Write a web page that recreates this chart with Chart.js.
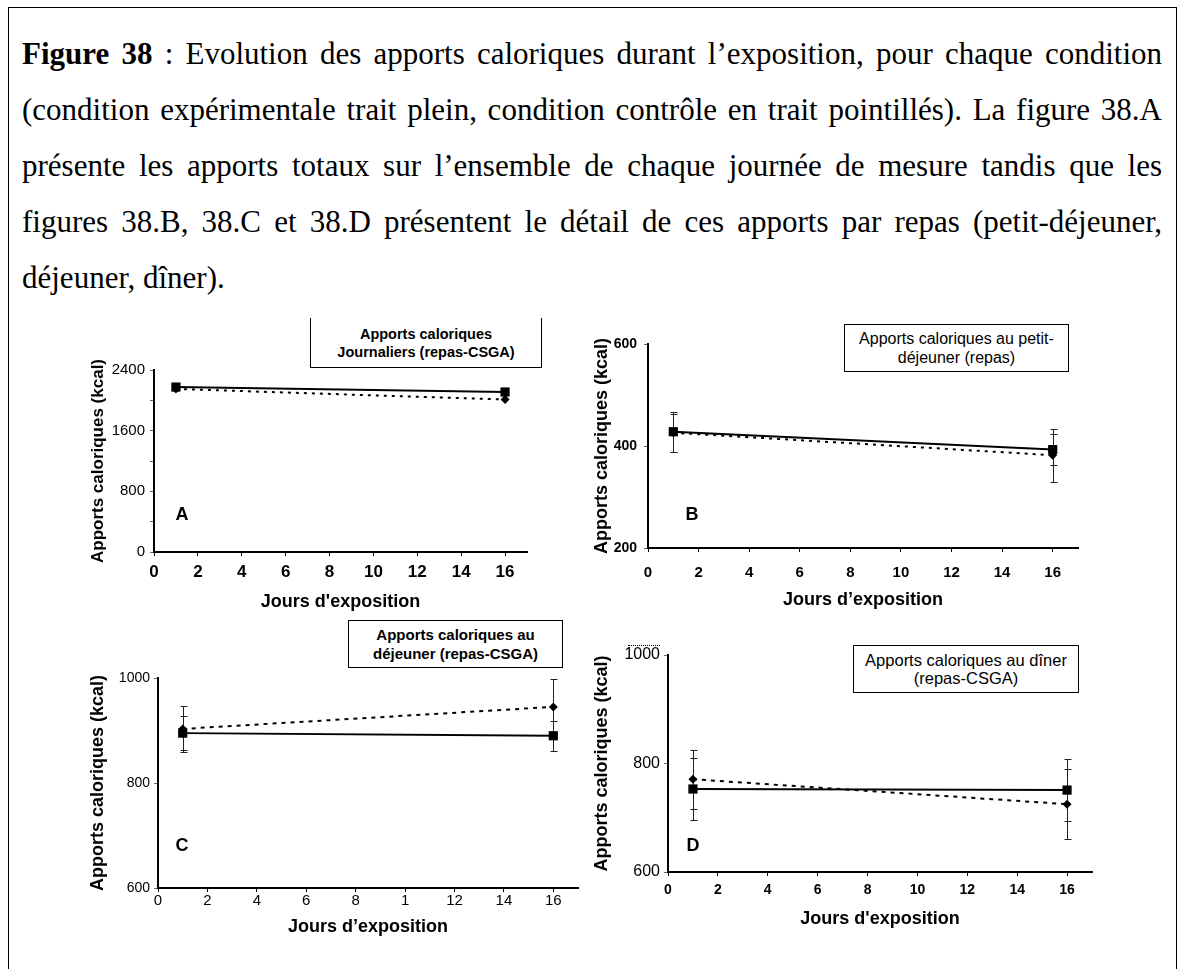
<!DOCTYPE html>
<html lang="fr">
<head>
<meta charset="utf-8">
<title>Figure 38 - apports caloriques</title>
<script src="https://cdn.jsdelivr.net/npm/chart.js@4.4.1/dist/chart.umd.min.js"></script>
<style>
  html, body { margin: 0; padding: 0; background: #fff; }
  body { width: 1182px; height: 969px; position: relative; overflow: hidden; font-family: 'Liberation Sans', Arial, sans-serif; color: #000; }
  .frame { position: absolute; left: 8px; top: 7px; width: 1167px; height: 1000px; border: 1px solid #000; border-bottom: none; }
  .caption { position: absolute; left: 22px; top: 26px; width: 1140px; font-family: 'Liberation Serif', 'Times New Roman', serif; font-size: 31px; line-height: 56px; }
  .caption div { text-align: justify; text-align-last: justify; }
  .caption div.last { text-align-last: left; }
  canvas { position: absolute; }
  .box { position: absolute; box-sizing: border-box; border: 1px solid #000; background: #fff; display: flex; flex-direction: column; justify-content: center; align-items: center; text-align: center; }
  .letter { position: absolute; font-weight: bold; font-size: 18px; transform: translate(-50%, -50%); }
</style>
</head>
<body>
<div class="frame"></div>
<div class="caption">
  <div><b>Figure 38</b> : Evolution des apports caloriques durant l’exposition, pour chaque condition</div>
  <div>(condition expérimentale trait plein, condition contrôle en trait pointillés). La figure 38.A</div>
  <div>présente les apports totaux sur l’ensemble de chaque journée de mesure tandis que les</div>
  <div>figures 38.B, 38.C et 38.D présentent le détail de ces apports par repas (petit-déjeuner,</div>
  <div class="last">déjeuner, dîner).</div>
</div>

<canvas id="chartA" width="480" height="300" style="left:60px;top:320px"></canvas>
<canvas id="chartB" width="520" height="300" style="left:570px;top:315px"></canvas>
<canvas id="chartC" width="530" height="310" style="left:60px;top:640px"></canvas>
<canvas id="chartD" width="520" height="310" style="left:580px;top:630px"></canvas>

<div class="box" style="left:310px;top:318px;width:232px;height:50px;border-top:none;font-weight:bold;font-size:14.5px;line-height:18px;">
  <div>Apports caloriques</div><div>Journaliers (repas-CSGA)</div>
</div>
<div class="box" style="left:844px;top:324px;width:225px;height:48px;font-size:16px;line-height:19px;">
  <div>Apports caloriques au petit-</div><div>déjeuner (repas)</div>
</div>
<div class="box" style="left:348px;top:620px;width:215px;height:48px;font-weight:bold;font-size:15px;line-height:19px;">
  <div>Apports caloriques au</div><div>déjeuner (repas-CSGA)</div>
</div>
<div class="box" style="left:853px;top:645px;width:226px;height:48px;font-size:16.5px;line-height:18px;">
  <div>Apports caloriques au dîner</div><div>(repas-CSGA)</div>
</div>
<div style="position:absolute;left:628px;top:645px;width:32px;border-top:1px dotted #000;"></div>

<span class="letter" style="left:182px;top:514px">A</span>
<span class="letter" style="left:692px;top:514px">B</span>
<span class="letter" style="left:182px;top:845px">C</span>
<span class="letter" style="left:693px;top:845px">D</span>

<script>
// measurement days
const days = [1, 16];

// daily totals (kcal)
const dailyExp = [2175, 2110];
const dailyCtrl = [2150, 2010];

// breakfast (kcal) with error bars
const breakfastExp = [428, 393];
const breakfastExpErr = [39, 30];
const breakfastCtrl = [426, 382];
const breakfastCtrlErr = [37, 52];

// lunch (kcal)
const lunchExp = [895, 890];
const lunchExpErr = [33, 29];
const lunchCtrl = [903, 945];
const lunchCtrlErr = [43, 53];

// dinner (kcal)
const dinnerExp = [753, 751];
const dinnerExpErr = [57, 57];
const dinnerCtrl = [771, 725];
const dinnerCtrlErr = [54, 65];

// axis ticks
const xTickValues = [0, 2, 4, 6, 8, 10, 12, 14, 16];
const xTickLabels = ['0', '2', '4', '6', '8', '10', '12', '14', '16'];
const xTickLabelsLunch = ['0', '2', '4', '6', '8', '1', '12', '14', '16'];
const yTicksDaily = [0, 400, 800, 1200, 1600, 2000, 2400];
const yLabelsDaily = [0, 800, 1600, 2400];
const yTicksBreakfast = [200, 400, 600];
const yTicksMeal = [600, 800, 1000];

Chart.defaults.font.family = "'Liberation Sans', Arial, sans-serif";
Chart.defaults.color = '#000';

// vertical error bars drawn under the markers
const errorBars = {
    id: 'errorBars',
    beforeDatasetsDraw(chart) {
        const ctx = chart.ctx;
        const yScale = chart.scales.y;
        chart.data.datasets.forEach((ds, i) => {
            if (!ds.errors) return;
            const meta = chart.getDatasetMeta(i);
            ctx.save();
            ctx.strokeStyle = '#222';
            ctx.lineWidth = 1;
            meta.data.forEach((pt, j) => {
                const v = ds.data[j].y;
                const e = ds.errors[j];
                const x = Math.round(pt.x) + 0.5;
                const top = Math.round(yScale.getPixelForValue(v + e)) + 0.5;
                const bot = Math.round(yScale.getPixelForValue(v - e)) + 0.5;
                ctx.beginPath();
                ctx.moveTo(x, top); ctx.lineTo(x, bot);
                ctx.moveTo(x - 3, top); ctx.lineTo(x + 4, top);
                ctx.moveTo(x - 3, bot); ctx.lineTo(x + 4, bot);
                ctx.stroke();
            });
            ctx.restore();
        });
    }
};

function buildPanel(id, cfg) {
    const points = vals => days.map((d, i) => ({ x: d, y: vals[i] }));
    return new Chart(document.getElementById(id), {
        type: 'scatter',
        data: {
            datasets: [
                {
                    data: points(cfg.ctrl),
                    errors: cfg.ctrlErr,
                    showLine: true,
                    borderColor: '#000',
                    borderWidth: 2,
                    borderDash: cfg.dash,
                    pointStyle: 'rectRot',
                    pointRadius: 4.5,
                    pointBackgroundColor: '#000',
                    pointBorderColor: '#000',
                    pointBorderWidth: 0
                },
                {
                    data: points(cfg.exp),
                    errors: cfg.expErr,
                    showLine: true,
                    borderColor: '#000',
                    borderWidth: 2,
                    pointStyle: 'rect',
                    pointRadius: 6.5,
                    pointBackgroundColor: '#000',
                    pointBorderColor: '#000',
                    pointBorderWidth: 0
                }
            ]
        },
        options: {
            responsive: false,
            animation: false,
            devicePixelRatio: 1,
            layout: { padding: { top: cfg.padTop, right: cfg.padRight, left: 0, bottom: 0 } },
            plugins: { legend: { display: false }, tooltip: { enabled: false } },
            scales: {
                x: {
                    type: 'linear',
                    min: 0,
                    max: 17,
                    afterBuildTicks: s => { s.ticks = xTickValues.map(v => ({ value: v })); },
                    afterFit: s => { s.height = cfg.xHeight; },
                    ticks: {
                        autoSkip: false,
                        maxRotation: 0,
                        padding: cfg.xTickPad,
                        font: cfg.xTickFont,
                        color: '#000',
                        callback: (v, i) => cfg.xLabels[i]
                    },
                    grid: { drawOnChartArea: false, drawTicks: true, tickLength: 4, tickColor: '#000' },
                    border: { color: '#000', width: 2 },
                    title: {
                        display: true,
                        text: cfg.xTitle,
                        font: { size: 18, weight: 'bold' },
                        color: '#000',
                        padding: { top: 0, bottom: cfg.xTitlePad }
                    }
                },
                y: {
                    min: cfg.yMin,
                    max: cfg.yMax,
                    afterBuildTicks: s => { s.ticks = cfg.yTicks.map(v => ({ value: v })); },
                    afterFit: s => { s.width = cfg.yWidth; },
                    ticks: {
                        padding: cfg.yTickPad,
                        font: cfg.yTickFont,
                        color: '#000',
                        callback: v => cfg.yLabels.includes(v) ? String(v) : ''
                    },
                    grid: { drawOnChartArea: false, drawTicks: true, tickLength: 4, tickColor: '#666' },
                    border: { color: '#000', width: 2 },
                    title: {
                        display: true,
                        text: 'Apports caloriques (kcal)',
                        font: { size: cfg.yTitleSize, weight: 'bold' },
                        color: '#000',
                        padding: { top: cfg.yTitlePad, bottom: 0 }
                    }
                }
            }
        },
        plugins: [errorBars]
    });
}

// A: daily totals
buildPanel('chartA', {
    exp: dailyExp, ctrl: dailyCtrl, expErr: null, ctrlErr: null, dash: [3, 5],
    padTop: 50, padRight: 13, yWidth: 94, xHeight: 68,
    xTickFont: { size: 17, weight: 'bold' }, xTickPad: 6, xLabels: xTickLabels,
    xTitle: "Jours d'exposition", xTitlePad: 7,
    yMin: 0, yMax: 2400, yTicks: yTicksDaily, yLabels: yLabelsDaily,
    yTickFont: { size: 15 }, yTickPad: 5, yTitleSize: 17, yTitlePad: 28
});

// B: breakfast
buildPanel('chartB', {
    exp: breakfastExp, ctrl: breakfastCtrl, expErr: breakfastExpErr, ctrlErr: breakfastCtrlErr, dash: [3, 5],
    padTop: 29, padRight: 12, yWidth: 78, xHeight: 67,
    xTickFont: { size: 15, weight: 'bold' }, xTickPad: 12, xLabels: xTickLabels,
    xTitle: 'Jours d’exposition', xTitlePad: 4,
    yMin: 200, yMax: 600, yTicks: yTicksBreakfast, yLabels: yTicksBreakfast,
    yTickFont: { size: 14, weight: 'bold' }, yTickPad: 7, yTitleSize: 18, yTitlePad: 21
});

// C: lunch
buildPanel('chartC', {
    exp: lunchExp, ctrl: lunchCtrl, expErr: lunchExpErr, ctrlErr: lunchCtrlErr, dash: [4, 5],
    padTop: 38, padRight: 12, yWidth: 98, xHeight: 62,
    xTickFont: { size: 15, lineHeight: 1 }, xTickPad: 1, xLabels: xTickLabelsLunch,
    xTitle: 'Jours d’exposition', xTitlePad: 12,
    yMin: 600, yMax: 1000, yTicks: yTicksMeal, yLabels: yTicksMeal,
    yTickFont: { size: 14 }, yTickPad: 4, yTitleSize: 18, yTitlePad: 27
});

// D: dinner
buildPanel('chartD', {
    exp: dinnerExp, ctrl: dinnerCtrl, expErr: dinnerExpErr, ctrlErr: dinnerCtrlErr, dash: [4, 5],
    padTop: 25, padRight: 8, yWidth: 88, xHeight: 68,
    xTickFont: { size: 14, weight: 'bold' }, xTickPad: 6, xLabels: xTickLabels,
    xTitle: "Jours d'exposition", xTitlePad: 10,
    yMin: 600, yMax: 1000, yTicks: yTicksMeal, yLabels: yTicksMeal,
    yTickFont: { size: 16 }, yTickPad: 4, yTitleSize: 18, yTitlePad: 11
});
</script>
</body>
</html>
